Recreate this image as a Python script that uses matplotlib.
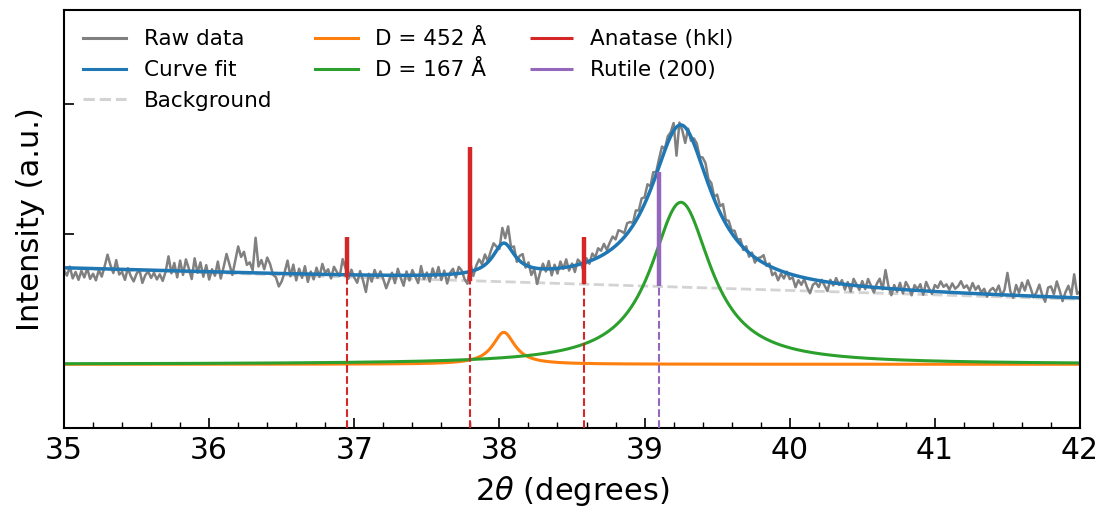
import numpy as np
import matplotlib
matplotlib.use("Agg")
import matplotlib.pyplot as plt

# ---- data -------------------------------------------------------------
two_theta_min, two_theta_max = 35.0, 42.0

# linear background (2theta, intensity)
bg_x = [35.0, 42.0]
bg_y = [73.8, 50.0]

# fitted peaks: centre (deg), height, crystallite size D (Angstrom)
peak_centers = [38.03, 39.25]
peak_heights = [24.6, 124.6]
peak_sizes = [452, 167]
peak_colors = ["tab:orange", "tab:green"]

# Scherrer constants
scherrer_k = 0.9
wavelength = 1.5406  # Cu K-alpha, Angstrom

# reference reflections
anatase_pos = [36.95, 37.80, 38.58]
anatase_int = [31, 103, 36]
rutile_pos = [39.10]
rutile_int = [88]

# measured pattern: residuals of the raw counts against the fit, 0.02 deg steps
raw_resid = [
    -2, -6, 1, -8, -3,   -9, -2, -7, 0, -8,   -4, -9, -1, -6, 2,   11, 3, -3, 7, -4,
    -2, -8, 1, -5, -9,   -3, 0, -10, -4, -1,  -6, -2, -7, -3, -8,  -1, 11, -2, 6, -5,
    8, -3, 9, 2, -6,     10, -1, 7, -4, 5,    -6, 2, -3, 8, -5,    4, 14, 6, -2, 9,
    20, 12, 16, 6, 8,    2, 27, 5, 10, 3,     12, 7, -1, -3, -10,  -6, 1, 10, -2, 7,
    -5, 4, -3, 6, -6,    2, -4, 5, -2, 8,     1, 4, -3, 6, 2,      -1, 12, 5, -3, 4,
    -2, -6, 3, -4, -13,  1, -5, 4, -2, 3,     -3, -10, -4, 2, -6,  5, -2, -8, 3, -4,
    4, -1, -6, 7, -3,    2, -5, 5, -2, 6,     -4, 3, -7, 1, 4,     -3, 5, 2, -5, -9,
    6, -4, 3, 7, 2,      8, 1, 6, 9, 3,       -2, 12, 4, 15, 2,    6, -3, 4, 7, -2,
    3, -6, -1, -12, -3,  4, -2, 6, -5, 3,     -4, 5, -1, 6, -3,    2, -5, 4, 1, -6,
    3, -2, 5, 1, 7,      4, 8, 2, 6, 9,       5, 10, 7, 3, 8,      6, 2, 8, 4, 9,
    5, 10, 3, 8, 2,      6, 9, 1, 5, 3,       6, -22, 2, -4, -12,  2, -3, 4, 6, 2,
    8, 10, 4, 7, 2,      9, 5, 11, 3, 6,      2, 5, 1, 4, -2,      3, -3, 2, -4, 1,
    3, 6, -1, 2, -6,     -3, -8, -2, -5, 1,   -4, -2, -9, -3, -6,  -1, -7, -11, -4, -2,
    -5, 1, -3, -7, 2,    -2, 4, -1, 3, -4,    2, -5, 5, 1, -3,     4, -2, 6, 1, -4,
    3, 7, -1, 14, 2,     -5, 3, -2, 5, -3,    6, 2, -4, 4, 1,      5, -3, 7, 2, -2,
    5, 3, 8, 4, 6,       2, 7, 3, 5, 9,       4, 6, 2, 8, 3,       6, 1, 4, -2, 3,
    5, 2, 7, -1, 4,      17, 3, -2, 8, 2,     10, 4, 12, 6, -1,    3, 9, 1, -4, 7,
    8, 2, 12, 5, -3,     4, 9, 2, 18, 3,      5,
]

y_limits = (-49.0, 272.5)
y_ticks = [100, 200]


# ---- helpers ----------------------------------------------------------
def scherrer_fwhm(size, center):
    """FWHM in degrees 2theta for a crystallite size D via Scherrer."""
    theta = np.radians(center / 2.0)
    beta = scherrer_k * wavelength / (size * np.cos(theta))
    return np.degrees(beta)


def lorentzian(x, center, height, fwhm):
    return height / (1.0 + ((x - center) / (fwhm / 2.0)) ** 2)


def background(x):
    return np.interp(x, bg_x, bg_y)


def peak_profiles(x):
    return [lorentzian(x, c, h, scherrer_fwhm(d, c))
            for c, h, d in zip(peak_centers, peak_heights, peak_sizes)]


# ---- figure -----------------------------------------------------------
plt.rcParams["font.family"] = "DejaVu Sans"
fig = plt.figure(figsize=(11.06, 5.13), dpi=100)
ax = fig.add_axes([64 / 1106, 85 / 513, 1016 / 1106, 418 / 513])

x_fine = np.linspace(two_theta_min, two_theta_max, 1401)
x_raw = np.linspace(two_theta_min, two_theta_max, len(raw_resid))

fine_peaks = peak_profiles(x_fine)
fit_curve = background(x_fine) + np.sum(fine_peaks, axis=0)
raw_counts = background(x_raw) + np.sum(peak_profiles(x_raw), axis=0) + np.array(raw_resid)

ax.plot(x_raw, raw_counts, color="gray", lw=1.8, label="Raw data", zorder=2)
ax.plot(x_fine, fit_curve, color="tab:blue", lw=2.5, label="Curve fit", zorder=2.2)
ax.plot(x_fine, background(x_fine), color="lightgray", lw=2.0, ls="--",
        label="Background", zorder=1.8)
for prof, d, col in zip(fine_peaks, peak_sizes, peak_colors):
    ax.plot(x_fine, prof, color=col, lw=2.2, label=f"D = {d} Å", zorder=2.1)

# reference reflections: solid bar above background, dashed drop line below
ymin = y_limits[0]
for pos, inten, col, lab in [(anatase_pos, anatase_int, "tab:red", "Anatase (hkl)"),
                             (rutile_pos, rutile_int, "tab:purple", "Rutile (200)")]:
    pos = np.array(pos)
    base = background(pos)
    ax.vlines(pos, base, base + np.array(inten), color=col, lw=3.2, label=lab, zorder=3)
    ax.vlines(pos, ymin, base, color=col, lw=1.5, ls="--", zorder=3)

ax.set_xlim(two_theta_min, two_theta_max)
ax.set_ylim(*y_limits)
ax.set_xticks(np.arange(35, 43, 1))
ax.set_xticks(np.arange(35, 42.01, 0.2), minor=True)
ax.set_yticks(y_ticks)
ax.set_yticklabels([])
ax.tick_params(axis="both", which="major", direction="in", length=7, width=1.2,
               labelsize=21.5, pad=6)
ax.tick_params(axis="x", which="minor", direction="in", length=4, width=1.0)
for sp in ax.spines.values():
    sp.set_linewidth(1.5)

ax.set_xlabel(r"2$\theta$ (degrees)", fontsize=22, labelpad=6)
ax.set_ylabel("Intensity (a.u.)", fontsize=22, labelpad=8)

leg = ax.legend(loc="upper left", ncol=3, frameon=False, fontsize=15.5)
for h in leg.legend_handles:
    h.set_linewidth(2.2)

fig.savefig("out.png", dpi=100)
